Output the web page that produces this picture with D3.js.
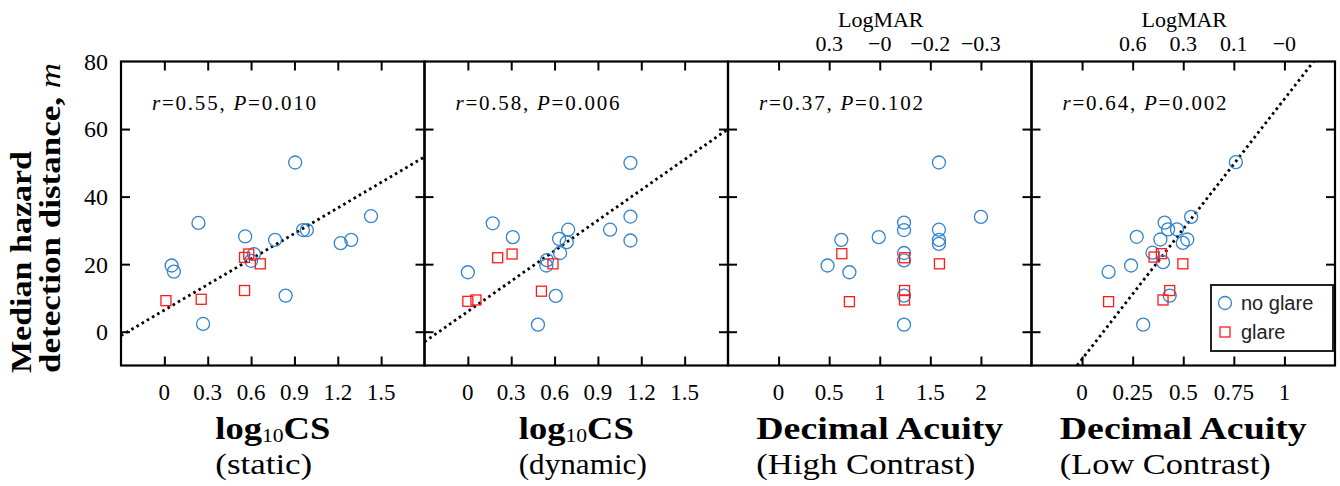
<!DOCTYPE html>
<html>
<head>
<meta charset="utf-8">
<script src="https://cdn.jsdelivr.net/npm/d3@7"></script>
<style>
  html, body { margin: 0; padding: 0; background: #fff; }
  svg { display: block; }
</style>
</head>
<body>
<svg id="chart" width="1340" height="486"></svg>
<script>
// ---------- DATA ----------
const yTicks = [0, 20, 40, 60, 80];
const csTicks = [0, 0.3, 0.6, 0.9, 1.2, 1.5];
const csTickLabels = ["0", "0.3", "0.6", "0.9", "1.2", "1.5"];
const decHighTicks = [0, 0.5, 1, 1.5, 2];
const decHighTickLabels = ["0", "0.5", "1", "1.5", "2"];
const decLowTicks = [0, 0.25, 0.5, 0.75, 1];
const decLowTickLabels = ["0", "0.25", "0.5", "0.75", "1"];
const logmarHighLabels = ["", "0.3", "\u22120", "\u22120.2", "\u22120.3"];
const logmarLowLabels = ["", "0.6", "0.3", "0.1", "\u22120"];

// panel 1: log10 CS static
const staticNoGlareX = [0.05, 0.066, 0.236, 0.268, 0.559, 0.60, 0.62, 0.766, 0.839, 0.905, 0.959, 0.986, 1.22, 1.293, 1.43];
const staticNoGlareY = [19.6, 17.8, 32.2, 2.3, 28.2, 21.0, 23.0, 27.2, 10.7, 50.1, 30.1, 30.1, 26.2, 27.2, 34.2];
const staticGlareX = [0.011, 0.255, 0.555, 0.584, 0.555, 0.664];
const staticGlareY = [9.2, 9.6, 22.0, 23.0, 12.2, 20.1];

// panel 2: log10 CS dynamic
const dynamicNoGlareX = [0.0, 0.172, 0.311, 0.485, 0.543, 0.547, 0.608, 0.631, 0.638, 0.684, 0.694, 0.984, 1.125, 1.125, 1.125];
const dynamicNoGlareY = [17.6, 32.1, 28.0, 2.1, 19.6, 21.2, 10.6, 27.5, 23.3, 26.5, 30.2, 30.2, 50.0, 34.1, 27.0];
const dynamicGlareX = [0.0, 0.056, 0.206, 0.306, 0.509, 0.589];
const dynamicGlareY = [9.0, 9.4, 21.9, 23.0, 12.0, 20.1];

// panel 3: decimal acuity, high contrast
const highNoGlareX = [0.484, 0.62, 0.70, 0.99, 1.24, 1.24, 1.24, 1.24, 1.24, 1.24, 1.585, 1.585, 1.585, 1.585, 2.0];
const highNoGlareY = [19.6, 27.2, 17.6, 28.0, 32.3, 30.1, 23.3, 21.1, 10.7, 2.1, 50.1, 30.2, 27.2, 26.0, 34.0];
const highGlareX = [0.625, 0.70, 1.245, 1.245, 1.245, 1.59];
const highGlareY = [23.1, 8.9, 21.9, 12.2, 9.4, 20.1];

// panel 4: decimal acuity, low contrast
const lowNoGlareX = [0.131, 0.242, 0.27, 0.302, 0.348, 0.387, 0.40, 0.408, 0.425, 0.433, 0.469, 0.498, 0.52, 0.539, 0.76];
const lowNoGlareY = [17.7, 19.6, 28.1, 2.1, 23.4, 27.3, 20.6, 32.3, 30.3, 10.7, 30.3, 26.3, 27.3, 34.0, 50.2];
const lowGlareX = [0.131, 0.356, 0.392, 0.40, 0.433, 0.498];
const lowGlareY = [8.9, 22.1, 23.1, 9.4, 12.2, 20.1];

const rValues = ["0.55", "0.58", "0.37", "0.64"];
const pValues = ["0.010", "0.006", "0.102", "0.002"];
const fitIntercept = [6.4, 6.0, null, -8.1];
const fitSlope = [25.2, 30.0, null, 77.0];

const titleMain = ["log10CS", "log10CS", "Decimal Acuity", "Decimal Acuity"];
const titleSub = ["(static)", "(dynamic)", "(High Contrast)", "(Low Contrast)"];
const legendLabels = ["no glare", "glare"];

// ---------- LAYOUT ----------
const svg = d3.select("#chart");
const left0 = 121, panelW = 303.5, plotTop = 61.5, plotBottom = 365.5;
const blue = "#3384cb", red = "#ff1a1a";
const serif = "'Liberation Serif', 'DejaVu Serif', serif";
const sans = "'Liberation Sans', Arial, sans-serif";
const subWidths = [97, 128, 219, 211];

const panels = [
  {domain: [-0.3, 1.8], ticks: csTicks, labels: csTickLabels, topLabels: null,
   nx: staticNoGlareX, ny: staticNoGlareY, gx: staticGlareX, gy: staticGlareY},
  {domain: [-0.3, 1.8], ticks: csTicks, labels: csTickLabels, topLabels: null,
   nx: dynamicNoGlareX, ny: dynamicNoGlareY, gx: dynamicGlareX, gy: dynamicGlareY},
  {domain: [-0.5, 2.5], ticks: decHighTicks, labels: decHighTickLabels, topLabels: logmarHighLabels,
   nx: highNoGlareX, ny: highNoGlareY, gx: highGlareX, gy: highGlareY},
  {domain: [-0.25, 1.25], ticks: decLowTicks, labels: decLowTickLabels, topLabels: logmarLowLabels,
   nx: lowNoGlareX, ny: lowNoGlareY, gx: lowGlareX, gy: lowGlareY}
];

const y = d3.scaleLinear().domain([-10, 80]).range([plotBottom, plotTop]);
const tickLen = 9;

panels.forEach((p, i) => {
  const x0 = left0 + i * panelW, x1 = x0 + panelW;
  const x = d3.scaleLinear().domain(p.domain).range([x0, x1]);
  const g = svg.append("g");

  // fit line
  if (fitSlope[i] !== null) {
    const a = fitIntercept[i], b = fitSlope[i];
    let xa = p.domain[0], xb = p.domain[1];
    const xAtYmin = (-10 - a) / b, xAtYmax = (80 - a) / b;
    xa = Math.max(xa, Math.min(xAtYmin, xAtYmax));
    xb = Math.min(xb, Math.max(xAtYmin, xAtYmax));
    g.append("line")
      .attr("x1", x(xa)).attr("y1", y(a + b * xa))
      .attr("x2", x(xb)).attr("y2", y(a + b * xb))
      .attr("stroke", "#000").attr("stroke-width", 2.8)
      .attr("stroke-dasharray", "2.6 3.4");
  }

  // points
  g.selectAll("circle.ng").data(p.nx.map((v, k) => [v, p.ny[k]])).enter()
    .append("circle").attr("class", "ng")
    .attr("cx", d => x(d[0])).attr("cy", d => y(d[1])).attr("r", 6.5)
    .attr("fill", "none").attr("stroke", blue).attr("stroke-width", 1.3);
  const s = 10;
  g.selectAll("rect.gl").data(p.gx.map((v, k) => [v, p.gy[k]])).enter()
    .append("rect").attr("class", "gl")
    .attr("x", d => x(d[0]) - s / 2).attr("y", d => y(d[1]) - s / 2)
    .attr("width", s).attr("height", s)
    .attr("fill", "none").attr("stroke", red).attr("stroke-width", 1.3);

  // ticks: bottom & top (inward)
  const gb = g.append("g").attr("transform", `translate(0,${plotBottom})`)
    .call(d3.axisBottom(x).tickValues(p.ticks).tickSize(tickLen).tickFormat(""));
  gb.selectAll(".tick line").attr("y2", -tickLen);
  const gt = g.append("g").attr("transform", `translate(0,${plotTop})`)
    .call(d3.axisTop(x).tickValues(p.ticks).tickSize(tickLen).tickFormat(""));
  gt.selectAll(".tick line").attr("y2", tickLen);
  const yt = yTicks.filter(v => v < 80);
  const gl = g.append("g").attr("transform", `translate(${x0},0)`)
    .call(d3.axisLeft(y).tickValues(yt).tickSize(tickLen).tickFormat(""));
  gl.selectAll(".tick line").attr("x2", tickLen);
  const gr = g.append("g").attr("transform", `translate(${x1},0)`)
    .call(d3.axisRight(y).tickValues(yt).tickSize(tickLen).tickFormat(""));
  gr.selectAll(".tick line").attr("x2", -tickLen);
  [gb, gt, gl, gr].forEach(a => {
    a.select(".domain").remove();
    a.selectAll(".tick line").attr("stroke", "#000").attr("stroke-width", 2);
  });

  // frame
  g.append("rect").attr("x", x0).attr("y", plotTop).attr("width", panelW).attr("height", plotBottom - plotTop)
    .attr("fill", "none").attr("stroke", "#000").attr("stroke-width", 2.2);

  // bottom tick labels
  g.selectAll("text.xl").data(p.ticks).enter().append("text").attr("class", "xl")
    .attr("x", d => x(d)).attr("y", 400).attr("text-anchor", "middle")
    .attr("font-family", serif).attr("font-size", 23)
    .text((d, k) => p.labels[k]);

  // top LogMAR axis
  if (p.topLabels) {
    g.selectAll("text.tl").data(p.ticks).enter().append("text").attr("class", "tl")
      .attr("x", d => x(d)).attr("y", 51).attr("text-anchor", "middle")
      .attr("font-family", serif).attr("font-size", 22)
      .text((d, k) => p.topLabels[k]);
    g.append("text").attr("x", (x0 + x1) / 2 + 1).attr("y", 27).attr("text-anchor", "middle")
      .attr("font-family", serif).attr("font-size", 22).text("LogMAR");
  }

  // r, P annotation
  const ann = g.append("text").attr("x", x0 + 31).attr("y", 110)
    .attr("font-family", serif).attr("font-size", 21)
    .attr("textLength", 164).attr("lengthAdjust", "spacing");
  ann.append("tspan").attr("font-style", "italic").text("r");
  ann.append("tspan").text("=" + rValues[i] + ", ");
  ann.append("tspan").attr("font-style", "italic").text("P");
  ann.append("tspan").text("=" + pValues[i]);

  // axis titles
  const cx = (x0 + x1) / 2;
  const main = g.append("text").attr("y", 439).attr("text-anchor", "middle")
    .attr("font-family", serif).attr("font-size", 32).attr("font-weight", "bold");
  if (titleMain[i].startsWith("log")) {
    main.attr("x", cx);
    main.append("tspan").text("log");
    main.append("tspan").attr("font-size", 19).attr("font-weight", "normal").attr("dy", 3).text("10");
    main.append("tspan").attr("dy", -3).text("CS");
    main.attr("textLength", 115).attr("lengthAdjust", "spacingAndGlyphs");
  } else {
    main.attr("x", cx).attr("textLength", 247).attr("lengthAdjust", "spacingAndGlyphs").text(titleMain[i]);
  }
  const bb = main.node().getBBox();
  g.append("text").attr("x", bb.x).attr("y", 474)
    .attr("font-family", serif).attr("font-size", 29)
    .attr("textLength", subWidths[i]).attr("lengthAdjust", "spacingAndGlyphs")
    .text(titleSub[i]);
});

// y tick labels
svg.selectAll("text.yl").data(yTicks).enter().append("text").attr("class", "yl")
  .attr("x", 108).attr("y", d => y(d)).attr("dy", "0.35em").attr("text-anchor", "end")
  .attr("font-family", serif).attr("font-size", 24).text(d => d);

// y axis label (two lines, rotated)
svg.append("text").attr("transform", "translate(31,373) rotate(-90)")
  .attr("font-family", serif).attr("font-size", 30).attr("font-weight", "bold")
  .attr("textLength", 222).attr("lengthAdjust", "spacingAndGlyphs").text("Median hazard");
const yl2 = svg.append("text").attr("transform", "translate(60,373) rotate(-90)")
  .attr("font-family", serif).attr("font-size", 30).attr("font-weight", "bold")
  .attr("textLength", 310).attr("lengthAdjust", "spacingAndGlyphs");
yl2.append("tspan").text("detection distance, ");
yl2.append("tspan").attr("font-style", "italic").attr("font-weight", "normal").text("m");

// legend
const lg = svg.append("g");
lg.append("rect").attr("x", 1211).attr("y", 285).attr("width", 122).attr("height", 66)
  .attr("fill", "#fff").attr("stroke", "#222").attr("stroke-width", 2);
lg.append("circle").attr("cx", 1225).attr("cy", 303).attr("r", 6.5)
  .attr("fill", "none").attr("stroke", blue).attr("stroke-width", 1.3);
lg.append("rect").attr("x", 1220).attr("y", 327).attr("width", 10).attr("height", 10)
  .attr("fill", "none").attr("stroke", red).attr("stroke-width", 1.3);
lg.selectAll("text").data(legendLabels).enter().append("text")
  .attr("x", 1241).attr("y", (d, k) => 310 + k * 29)
  .attr("font-family", sans).attr("font-size", 20).attr("fill", "#222").text(d => d);
</script>
</body>
</html>
